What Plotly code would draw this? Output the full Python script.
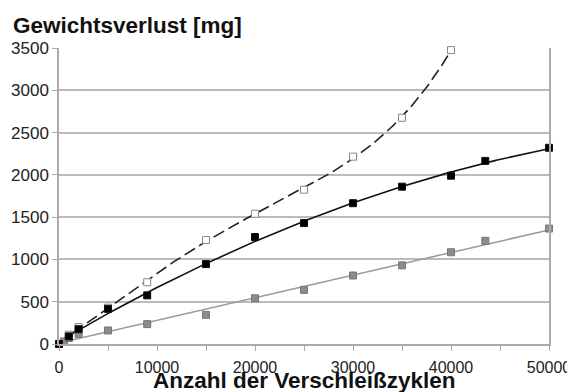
import numpy as np
import plotly.graph_objects as go

# Data
cycles_black = [0, 1000, 2000, 5000, 9000, 15000, 20000, 25000, 30000, 35000, 40000, 43500, 50000]
loss_black = [0, 90, 175, 415, 575, 945, 1265, 1430, 1665, 1860, 1990, 2165, 2320]

cycles_white = [0, 1000, 2000, 5000, 9000, 15000, 20000, 25000, 30000, 35000, 40000]
loss_white = [0, 110, 200, 430, 730, 1230, 1540, 1825, 2215, 2675, 3475]

cycles_gray = [0, 500, 1000, 2000, 5000, 9000, 15000, 20000, 25000, 30000, 35000, 40000, 43500, 50000]
loss_gray = [0, 30, 70, 120, 160, 235, 345, 540, 640, 810, 930, 1085, 1220, 1365]

x_ticks = [0, 10000, 20000, 30000, 40000, 50000]
y_ticks = [0, 500, 1000, 1500, 2000, 2500, 3000, 3500]

FONT = "Liberation Sans, Arial, sans-serif"

def trend(x, y, deg, xmax):
    c = np.polyfit(x, y, deg)
    xs = np.linspace(0, xmax, 200)
    return xs, np.polyval(c, xs)

fig = go.Figure()

# trend lines
xw, yw = trend(cycles_white, loss_white, 4, max(cycles_white))
fig.add_trace(go.Scatter(x=xw, y=yw, mode="lines", line=dict(color="#222", width=1.6, dash="12px,5px"),
                         showlegend=False, hoverinfo="skip"))
xb, yb = trend(cycles_black, loss_black, 2, max(cycles_black))
fig.add_trace(go.Scatter(x=xb, y=yb, mode="lines", line=dict(color="#111", width=1.6),
                         showlegend=False, hoverinfo="skip"))
xg, yg = trend(cycles_gray, loss_gray, 1, max(cycles_gray))
fig.add_trace(go.Scatter(x=xg, y=yg, mode="lines", line=dict(color="#999", width=1.5),
                         showlegend=False, hoverinfo="skip"))

# markers
fig.add_trace(go.Scatter(x=cycles_gray, y=loss_gray, mode="markers",
                         marker=dict(symbol="square", size=7, color="#8c8c8c", line=dict(color="#777", width=1)),
                         showlegend=False, cliponaxis=False))
fig.add_trace(go.Scatter(x=cycles_white, y=loss_white, mode="markers",
                         marker=dict(symbol="square", size=7, color="white", line=dict(color="#888", width=1)),
                         showlegend=False, cliponaxis=False))
fig.add_trace(go.Scatter(x=cycles_black, y=loss_black, mode="markers",
                         marker=dict(symbol="square", size=7, color="black", line=dict(color="#111", width=1)),
                         showlegend=False, cliponaxis=False))

# page body has an 8px margin, so the figure is 8px smaller each way and offset
fig.update_layout(
    width=567, height=384,
    margin=dict(l=51, r=26, t=40, b=48, autoexpand=False),
    paper_bgcolor="white", plot_bgcolor="white",
    font=dict(family=FONT, size=17, color="#222"),
    xaxis=dict(range=[0, 50000], tickvals=x_ticks, ticktext=[str(v) for v in x_ticks], automargin=False,
               showgrid=False, zeroline=False, showline=True, linecolor="#aaa", linewidth=1.5,
               ticks="outside", ticklen=5, tickcolor="#aaa", tickwidth=1, ticklabelstandoff=3,
               minor=dict(dtick=5000, ticks="outside", ticklen=5, tickcolor="#aaa", tickwidth=1),
               tickfont=dict(size=16, color="#222")),
    yaxis=dict(range=[0, 3500], tickvals=y_ticks, ticktext=[str(v) for v in y_ticks], automargin=False,
               showgrid=True, gridcolor="#bbb", gridwidth=1.5, zeroline=False,
               showline=True, linecolor="#aaa", linewidth=1.5, mirror=True,
               ticks="outside", ticklen=5, tickcolor="#aaa", tickwidth=1,
               tickfont=dict(size=17, color="#222")),
    annotations=[
        dict(text="<b>Gewichtsverlust [mg]</b>", xref="paper", yref="paper", x=-48/490, y=1 + 23/296,
             xanchor="left", yanchor="middle", showarrow=False, font=dict(size=22.5, color="#111", family=FONT)),
        dict(text="<b>Anzahl der Verschleißzyklen</b>", x=(304 - 59) / 490, y=-(380 - 344) / 296, xref="paper", yref="paper",
             xanchor="center", yanchor="middle", showarrow=False, font=dict(size=22.5, color="#111", family=FONT)),
    ],
)

fig.write_html("out.html")
